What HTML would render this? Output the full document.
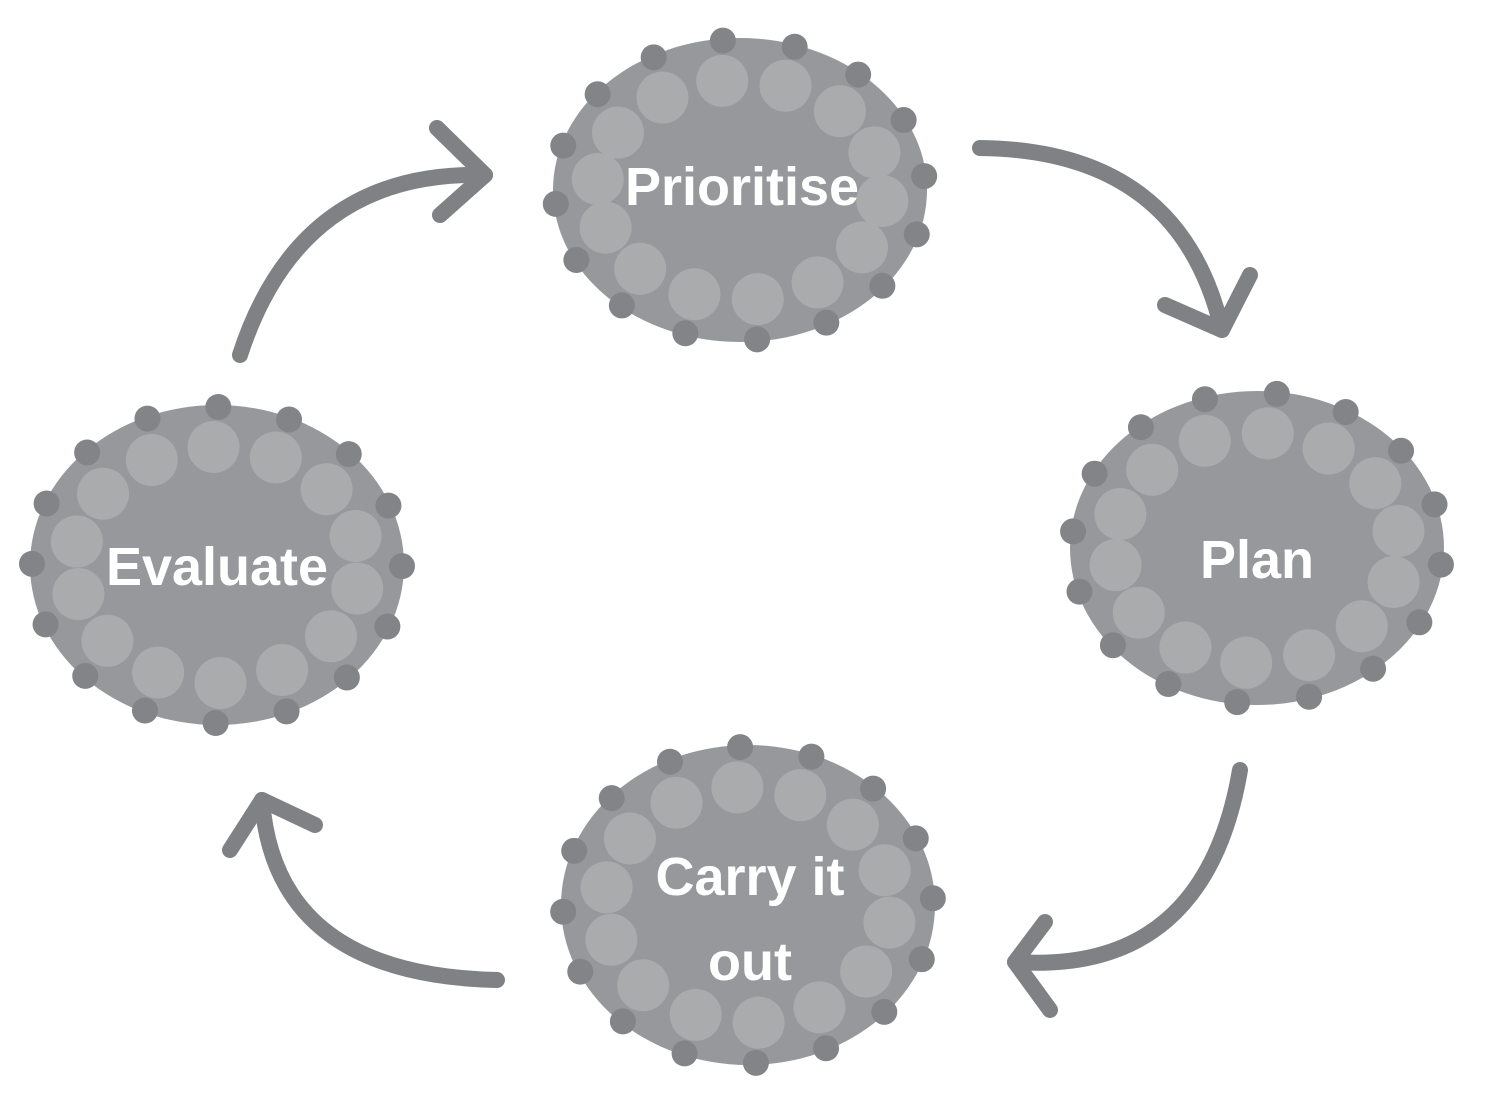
<!DOCTYPE html>
<html><head><meta charset="utf-8"><style>
html,body{margin:0;padding:0;background:#fff;}
svg{display:block;}
text{font-family:"Liberation Sans",sans-serif;font-weight:bold;fill:#fff;text-anchor:middle;}
</style></head><body>
<svg id="s" width="1491" height="1097" viewBox="0 0 1491 1097" xmlns="http://www.w3.org/2000/svg">
<g id="blobs"></g>
<g fill="none" stroke="#808184" stroke-width="16" stroke-linecap="round" stroke-linejoin="round">
<path d="M240,355 Q300,170 485,175"/>
<path d="M437,128 L485,175 L440,215"/>
<path d="M980,148 Q1180,150 1222,330"/>
<path d="M1165,305 L1222,330 L1250,275"/>
<path d="M1240,770 Q1205,975 1015,962"/>
<path d="M1045,922 L1015,962 L1050,1010"/>
<path d="M497,980 Q275,975 262,800"/>
<path d="M230,850 L262,800 L315,825"/>
</g>
<g id="labels" font-size="54">
<text x="742" y="205">Prioritise</text>
<text x="1257" y="578">Plan</text>
<text x="217" y="585">Evaluate</text>
<text x="750" y="895">Carry it</text>
<text x="750" y="980">out</text>
</g>
</svg>
<script>
(function(){
var ns="http://www.w3.org/2000/svg",g=document.getElementById("blobs");
function c(x,y,r,f){var e=document.createElementNS(ns,"circle");e.setAttribute("cx",x);e.setAttribute("cy",y);e.setAttribute("r",r);e.setAttribute("fill",f);g.appendChild(e);}
function blob(cx,cy,rx,ry,seed){
 var e=document.createElementNS(ns,"ellipse");e.setAttribute("cx",cx);e.setAttribute("cy",cy);e.setAttribute("rx",rx);e.setAttribute("ry",ry);e.setAttribute("fill","#97989b");g.appendChild(e);
 var n=14;for(var i=0;i<n;i++){var a=i/n*2*Math.PI+seed;c(cx+(rx-44)*Math.cos(a),cy+(ry-42)*Math.sin(a),26,"#aaabad");}
 var m=16;for(var i=0;i<m;i++){var a=i/m*2*Math.PI+seed+0.2;c(cx+(rx-2)*Math.cos(a),cy+(ry-2)*Math.sin(a),13,"#838487");}
}
blob(740,190,187,152,0.1);
blob(1257,548,187,157,0.3);
blob(217,565,187,160,0.2);
blob(748,905,187,160,0.15);
document.getElementById("s").appendChild(document.getElementById("labels"));
})();
</script>
</body></html>
